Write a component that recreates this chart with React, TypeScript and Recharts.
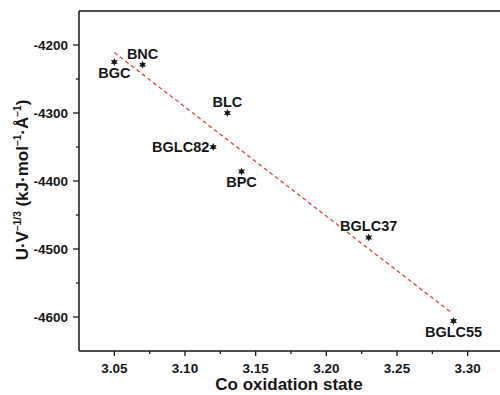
import { ScatterChart, Scatter, XAxis, YAxis, ReferenceLine, Label } from 'recharts';

// samples, Co oxidation state and U·V^-1/3
const samples = ['BGC', 'BNC', 'BLC', 'BGLC82', 'BPC', 'BGLC37', 'BGLC55'];
const coOxidation = [3.05, 3.07, 3.13, 3.12, 3.14, 3.23, 3.29];
const energy = [-4225, -4229, -4300, -4350, -4386, -4483, -4606];

// linear fit (red dashed)
const fitX = [3.05, 3.2875];
const fitY = [-4211, -4592];

const xTicks = [3.05, 3.1, 3.15, 3.2, 3.25, 3.3];
const xMinor = [3.075, 3.125, 3.175, 3.225, 3.275];
const yTicks = [-4600, -4500, -4400, -4300, -4200];
const yMinor = [-4550, -4450, -4350, -4250];

const points = samples.map((name, i) => ({ name, x: coOxidation[i], y: energy[i] }));
const fitLine = fitX.map((x, i) => ({ x, y: fitY[i] }));

// where each sample name sits relative to its marker
const labelSide: Record<string, 'above' | 'below' | 'left'> = {
  BGC: 'below',
  BNC: 'above',
  BLC: 'above',
  BGLC82: 'left',
  BPC: 'below',
  BGLC37: 'above',
  BGLC55: 'below',
};

const FONT = '"Liberation Sans", Arial, sans-serif';
const INK = '#161616';

function starPath(cx: number, cy: number, ro: number, ri: number) {
  let d = '';
  for (let k = 0; k < 12; k++) {
    const r = k % 2 === 0 ? ro : ri;
    const a = (Math.PI / 6) * k - Math.PI / 2;
    d += (k === 0 ? 'M' : 'L') + (cx + r * Math.cos(a)).toFixed(2) + ',' + (cy + r * Math.sin(a)).toFixed(2);
  }
  return d + 'Z';
}

const SampleMark = (props: any) => {
  const { cx, cy, payload } = props;
  const side = labelSide[payload.name];
  let tx = cx;
  let ty = cy;
  let anchor: 'middle' | 'end' = 'middle';
  if (side === 'above') ty = cy - 6;
  if (side === 'below') ty = cy + 16;
  if (side === 'left') {
    tx = cx - 4;
    ty = cy + 5;
    anchor = 'end';
  }
  return (
    <g>
      <path d={starPath(cx, cy, 4, 2)} fill={INK} />
      <text x={tx} y={ty} textAnchor={anchor} fontFamily={FONT} fontWeight="bold" fontSize={14.5} fill={INK}>
        {payload.name}
      </text>
    </g>
  );
};

const XTick = (props: any) => {
  const { x, y, payload } = props;
  const major = xTicks.includes(payload.value);
  return (
    <g>
      <line x1={x} x2={x} y1={y} y2={y + (major ? 5 : 3)} stroke={INK} strokeWidth={1.3} />
      {major && (
        <text x={x} y={y + 22} textAnchor="middle" fontFamily={FONT} fontWeight="bold" fontSize={13.5} fill={INK}>
          {payload.value.toFixed(2)}
        </text>
      )}
    </g>
  );
};

const YTick = (props: any) => {
  const { x, y, payload } = props;
  const major = yTicks.includes(payload.value);
  return (
    <g>
      <line x1={x} x2={x - (major ? 6 : 3)} y1={y} y2={y} stroke={INK} strokeWidth={1.3} />
      {major && (
        <text x={x - 11} y={y + 5} textAnchor="end" fontFamily={FONT} fontWeight="bold" fontSize={13.5} fill={INK}>
          {payload.value}
        </text>
      )}
    </g>
  );
};

const YTitle = () => (
  <text
    transform="translate(28,180) rotate(-90)"
    textAnchor="middle"
    fontFamily={FONT}
    fontWeight="bold"
    fontSize={17}
    fill={INK}
  >
    U·V
    <tspan fontSize={10} dy={-7}>−1/3</tspan>
    <tspan dy={7}> (kJ·mol</tspan>
    <tspan fontSize={10} dy={-7}>−1</tspan>
    <tspan dy={7}>·Å</tspan>
    <tspan fontSize={10} dy={-7}>−1</tspan>
    <tspan dy={7}>)</tspan>
  </text>
);

const XTitle = () => (
  <text x={289} y={390} textAnchor="middle" fontFamily={FONT} fontWeight="bold" fontSize={17} fill={INK}>
    Co oxidation state
  </text>
);

export default function App() {
  return (
    <div style={{ position: 'fixed', left: 0, top: 0, width: 500, height: 395, overflow: 'hidden', background: '#fff' }}>
      <ScatterChart width={503} height={395} margin={{ top: 11, right: 0, left: 0, bottom: 0 }}>
        <XAxis
          type="number"
          dataKey="x"
          domain={[3.025, 3.325]}
          ticks={[...xTicks, ...xMinor]}
          interval={0}
          tick={<XTick />}
          tickLine={false}
          tickSize={0}
          tickMargin={0}
          height={44}
          axisLine={{ stroke: INK, strokeWidth: 1.5 }}
          allowDataOverflow
        >
          <Label content={() => <XTitle />} />
        </XAxis>
        <YAxis
          type="number"
          dataKey="y"
          domain={[-4650, -4150]}
          ticks={[...yTicks, ...yMinor]}
          interval={0}
          tick={<YTick />}
          tickLine={false}
          tickSize={0}
          tickMargin={0}
          width={79}
          axisLine={{ stroke: INK, strokeWidth: 1.5 }}
          allowDataOverflow
        >
          <Label content={() => <YTitle />} />
        </YAxis>
        <ReferenceLine y={-4150} stroke={INK} strokeWidth={1.5} />
        <Scatter
          data={fitLine}
          line={{ stroke: '#e0443f', strokeWidth: 1.3, strokeDasharray: '4 3' }}
          shape={() => <g />}
          isAnimationActive={false}
        />
        <Scatter data={points} shape={<SampleMark />} isAnimationActive={false} />
      </ScatterChart>
    </div>
  );
}
